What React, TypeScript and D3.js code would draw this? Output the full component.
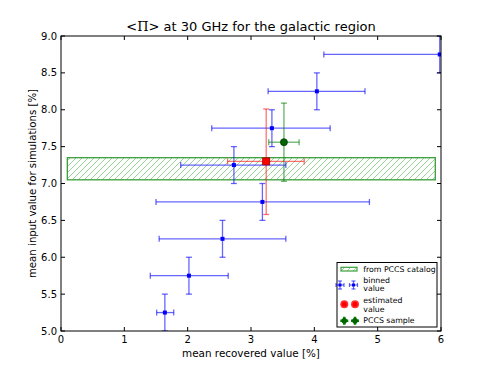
import React from "react";
import * as d3 from "d3";

const W = 491, H = 368;
const M = { left: 61, right: 441, top: 36, bottom: 331 };

// binned values (blue)
const binX = [1.64, 2.02, 2.55, 3.18, 2.73, 3.33, 4.04, 5.98];
const binXLo = [1.51, 1.41, 1.55, 1.50, 1.89, 2.38, 3.27, 4.15];
const binXHi = [1.78, 2.64, 3.55, 4.87, 3.55, 4.25, 4.80, 7.8];
const binY = [5.25, 5.75, 6.25, 6.75, 7.25, 7.75, 8.25, 8.75];
const binYLo = [5.0, 5.5, 6.0, 6.5, 7.0, 7.5, 8.0, 8.5];
const binYHi = [5.5, 6.0, 6.5, 7.0, 7.5, 8.0, 8.5, 9.0];

// estimated value (red)
const estX = [3.24];
const estXLo = [2.63];
const estXHi = [3.84];
const estY = [7.3];
const estYLo = [6.58];
const estYHi = [8.01];

// PCCS sample (green)
const pccsX = [3.52];
const pccsXLo = [3.28];
const pccsXHi = [3.76];
const pccsY = [7.56];
const pccsYLo = [7.03];
const pccsYHi = [8.09];

// PCCS catalog band
const bandX = [0.1, 5.91];
const bandY = [7.05, 7.35];

const xTicks = [0, 1, 2, 3, 4, 5, 6];
const yTicks = [5.0, 5.5, 6.0, 6.5, 7.0, 7.5, 8.0, 8.5, 9.0];

const legendLabels = [["from PCCS catalog"], ["binned", "value"], ["estimated", "value"], ["PCCS sample"]];

const x = d3.scaleLinear().domain([0, 6]).range([M.left, M.right]);
const y = d3.scaleLinear().domain([5, 9]).range([M.bottom, M.top]);

const FONT = "DejaVu Sans, sans-serif";

function ErrBar({ cx, cy, x0, x1, y0, y1, color, opacity, cap = 3, sw = 1.3 }: any) {
  const px = x(cx), py = y(cy);
  return (
    <g stroke={color} strokeOpacity={opacity} strokeWidth={sw} fill="none">
      <line x1={x(x0)} x2={x(x1)} y1={py} y2={py} />
      <line x1={x(x0)} x2={x(x0)} y1={py - cap} y2={py + cap} />
      <line x1={x(x1)} x2={x(x1)} y1={py - cap} y2={py + cap} />
      <line x1={px} x2={px} y1={y(y0)} y2={y(y1)} />
      <line x1={px - cap} x2={px + cap} y1={y(y0)} y2={y(y0)} />
      <line x1={px - cap} x2={px + cap} y1={y(y1)} y2={y(y1)} />
    </g>
  );
}

export default function App() {
  const legX = 337, legY = 262.5, legW = 100, legH = 64.5;
  const LF = 7.8;
  const TX = 363.3;
  return (
    <svg width={W} height={H} style={{ position: "absolute", left: 0, top: 0, background: "#fff" }}>
      <defs>
        <clipPath id="plotclip">
          <rect x={M.left} y={M.top} width={M.right - M.left} height={M.bottom - M.top} />
        </clipPath>
        <pattern id="hatch" patternUnits="userSpaceOnUse" width="6" height="6">
          <path d="M-1,1 l2,-2 M0,6 l6,-6 M5,7 l2,-2" stroke="#7fc97f" strokeWidth="0.8" />
        </pattern>
      </defs>
      <rect x={0} y={0} width={W} height={H} fill="#fff" />
      <g clipPath="url(#plotclip)">
        <rect x={x(bandX[0])} y={y(bandY[1])} width={x(bandX[1]) - x(bandX[0])} height={y(bandY[0]) - y(bandY[1])}
          fill="url(#hatch)" stroke="#3a9e3a" strokeWidth={1.3} />
        {binX.map((v, i) => (
          <g key={i}>
            <ErrBar cx={v} cy={binY[i]} x0={binXLo[i]} x1={binXHi[i]} y0={binYLo[i]} y1={binYHi[i]} color="#0000ff" opacity={0.6} />
            <rect x={x(v) - 2} y={y(binY[i]) - 2} width={4} height={4} fill="#0000ff" />
          </g>
        ))}
        {estX.map((v, i) => (
          <g key={i}>
            <ErrBar cx={v} cy={estY[i]} x0={estXLo[i]} x1={estXHi[i]} y0={estYLo[i]} y1={estYHi[i]} color="#ff0000" opacity={0.55} />
            <rect x={x(v) - 3.5} y={y(estY[i]) - 3.5} width={7} height={7} fill="#ff0000" stroke="#990000" strokeWidth={0.8} />
          </g>
        ))}
        {pccsX.map((v, i) => (
          <g key={i}>
            <ErrBar cx={v} cy={pccsY[i]} x0={pccsXLo[i]} x1={pccsXHi[i]} y0={pccsYLo[i]} y1={pccsYHi[i]} color="#008000" opacity={0.6} />
            <circle cx={x(v)} cy={y(pccsY[i])} r={3.5} fill="#006400" stroke="#004000" strokeWidth={0.8} />
          </g>
        ))}
      </g>
      {/* axes frame */}
      <rect x={M.left} y={M.top} width={M.right - M.left} height={M.bottom - M.top} fill="none" stroke="#000" strokeWidth={1} />
      {xTicks.map((t) => (
        <g key={t}>
          <line x1={x(t)} x2={x(t)} y1={M.bottom} y2={M.bottom - 4} stroke="#000" />
          <line x1={x(t)} x2={x(t)} y1={M.top} y2={M.top + 4} stroke="#000" />
          <text x={x(t)} y={M.bottom + 11.5} textAnchor="middle" fontFamily={FONT} fontSize={10}>{t}</text>
        </g>
      ))}
      {yTicks.map((t) => (
        <g key={t}>
          <line x1={M.left} x2={M.left + 4} y1={y(t)} y2={y(t)} stroke="#000" />
          <line x1={M.right} x2={M.right - 4} y1={y(t)} y2={y(t)} stroke="#000" />
          <text x={M.left - 4} y={y(t) + 3.6} textAnchor="end" fontFamily={FONT} fontSize={10}>{t.toFixed(1)}</text>
        </g>
      ))}
      <text x={(M.left + M.right) / 2} y={357} textAnchor="middle" fontFamily={FONT} fontSize={10.4}>mean recovered value [%]</text>
      <text transform={`translate(36,${(M.top + M.bottom) / 2}) rotate(-90)`} textAnchor="middle" fontFamily={FONT} fontSize={10.2}>mean input value for simulations [%]</text>
      <text x={(M.left + M.right) / 2} y={31} textAnchor="middle" fontFamily={FONT} fontSize={13}>
        <tspan fontFamily="DejaVu Serif, serif">{"<\u03A0>"}</tspan>
        <tspan>{"  at 30 GHz for the galactic region"}</tspan>
      </text>
      {/* legend */}
      <g>
        <rect x={legX} y={legY} width={legW} height={legH} fill="#fff" stroke="#000" strokeWidth={1} />
        <rect x={341} y={267.3} width={16} height={3.7} fill="url(#hatch)" stroke="#3a9e3a" strokeWidth={1.2} />
        {[340, 353.5].map((cx) => (
          <g key={"b" + cx} stroke="#0000ff" strokeOpacity={0.6} strokeWidth={1.2}>
            <line x1={cx - 4} x2={cx + 4} y1={285} y2={285} />
            <line x1={cx} x2={cx} y1={281} y2={289} />
            <line x1={cx - 4} x2={cx - 4} y1={283} y2={287} />
            <line x1={cx + 4} x2={cx + 4} y1={283} y2={287} />
            <line x1={cx - 2} x2={cx + 2} y1={281} y2={281} />
            <line x1={cx - 2} x2={cx + 2} y1={289} y2={289} />
            <rect x={cx - 1.5} y={283.5} width={3} height={3} fill="#0000ff" stroke="none" />
          </g>
        ))}
        {[344.3, 355].map((cx) => (
          <g key={"r" + cx}>
            <circle cx={cx} cy={304.3} r={4} fill="#ff0000" opacity={0.8} />
            <circle cx={cx} cy={304.3} r={2.5} fill="#ff0000" />
          </g>
        ))}
        {[344.3, 355].map((cx) => (
          <g key={"g" + cx}>
            <path d={`M${cx - 4},320.7 L${cx + 4},320.7 M${cx},316.7 L${cx},324.7`} stroke="#008000" strokeWidth={2.5} />
            <circle cx={cx} cy={320.7} r={2.8} fill="#006400" />
          </g>
        ))}
        <text x={TX} y={272} fontFamily={FONT} fontSize={LF}>{legendLabels[0][0]}</text>
        <text x={TX} y={282.7} fontFamily={FONT} fontSize={LF}>{legendLabels[1][0]}</text>
        <text x={TX} y={291} fontFamily={FONT} fontSize={LF}>{legendLabels[1][1]}</text>
        <text x={TX} y={303.3} fontFamily={FONT} fontSize={LF}>{legendLabels[2][0]}</text>
        <text x={TX} y={311.7} fontFamily={FONT} fontSize={LF}>{legendLabels[2][1]}</text>
        <text x={TX} y={323.3} fontFamily={FONT} fontSize={LF}>{legendLabels[3][0]}</text>
      </g>
    </svg>
  );
}
